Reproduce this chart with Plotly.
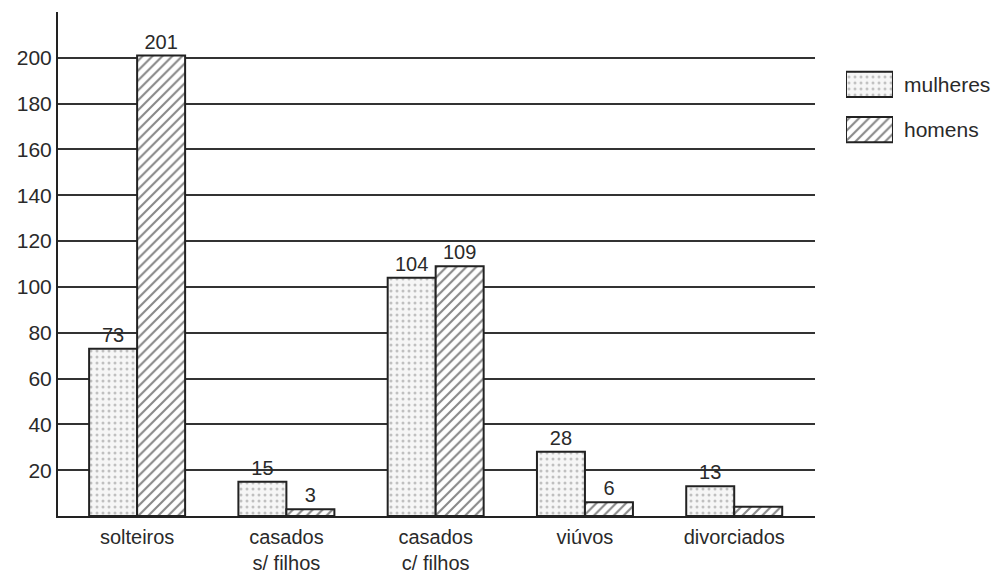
import plotly.graph_objects as go

categorias = ["solteiros", "casados<br>s/ filhos", "casados<br>c/ filhos", "viúvos", "divorciados"]
mulheres = [73, 15, 104, 28, 13]
homens = [201, 3, 109, 6, 4]
rotulos_mulheres = ["73", "15", "104", "28", "13"]
rotulos_homens = ["201", "3", "109", "6", ""]
ticks_y = [20, 40, 60, 80, 100, 120, 140, 160, 180, 200, 220]
ticks_y_texto = ["20", "40", "60", "80", "100", "120", "140", "160", "180", "200", ""]
series = ["mulheres", "homens"]

fonte = "Liberation Sans, Arial, sans-serif"
cor_texto = "#2a2a2a"

padrao_pontos = dict(shape=".", fgcolor="#8a8a8a", bgcolor="#f6f6f6", size=6, solidity=0.2)
padrao_listras = dict(shape="/", fgcolor="#111", bgcolor="white", size=7, solidity=0.3)
contorno = dict(color="#222", width=2)

fig = go.Figure()
fig.add_trace(go.Bar(
    name=series[0], x=categorias, y=mulheres,
    text=rotulos_mulheres, textposition="outside", cliponaxis=False,
    textfont=dict(size=20, color=cor_texto),
    marker=dict(color="#f6f6f6", line=contorno, pattern=padrao_pontos),
    showlegend=False,
))
fig.add_trace(go.Bar(
    name=series[1], x=categorias, y=homens,
    text=rotulos_homens, textposition="outside", cliponaxis=False,
    textfont=dict(size=20, color=cor_texto),
    marker=dict(color="white", line=contorno, pattern=padrao_listras),
    showlegend=False,
))

# legend swatches drawn as patterned bars on a small side axis
for nome, padrao, cor in [(series[0], padrao_pontos, "#f6f6f6"), (series[1], padrao_listras, "white")]:
    fig.add_trace(go.Bar(
        x=[1], y=[nome], orientation="h", xaxis="x2", yaxis="y2",
        width=0.56, offsetgroup="legenda", showlegend=False, hoverinfo="skip",
        marker=dict(color=cor, line=contorno, pattern=padrao),
    ))

fig.update_layout(
    width=997, height=575,
    margin=dict(l=58, r=0, t=12, b=59),
    paper_bgcolor="white", plot_bgcolor="white",
    barmode="group", bargap=0.357, bargroupgap=0,
    font=dict(family=fonte, size=21, color=cor_texto),
    xaxis=dict(domain=[0, 0.806], range=[-0.53, 4.54], automargin=False,
               showgrid=False, showline=True, linecolor="#222", linewidth=2,
               ticks="", ticklabelstandoff=2, tickfont=dict(size=20)),
    yaxis=dict(range=[0, 220], tickvals=ticks_y, ticktext=ticks_y_texto,
               showgrid=True, gridcolor="#333", gridwidth=2,
               showline=True, linecolor="#222", linewidth=2, automargin=False,
               ticks="", zeroline=False, tickfont=dict(size=21)),
    xaxis2=dict(domain=[0.8392, 0.8892], range=[0, 1], anchor="y2",
                visible=False, fixedrange=True),
    yaxis2=dict(domain=[0.722, 0.901], anchor="x2", side="right",
                autorange="reversed", showgrid=False, showline=False,
                zeroline=False, ticks="", ticklabelstandoff=10, automargin=False,
                tickfont=dict(size=21, color=cor_texto), fixedrange=True),
)

fig.write_html("out.html")
